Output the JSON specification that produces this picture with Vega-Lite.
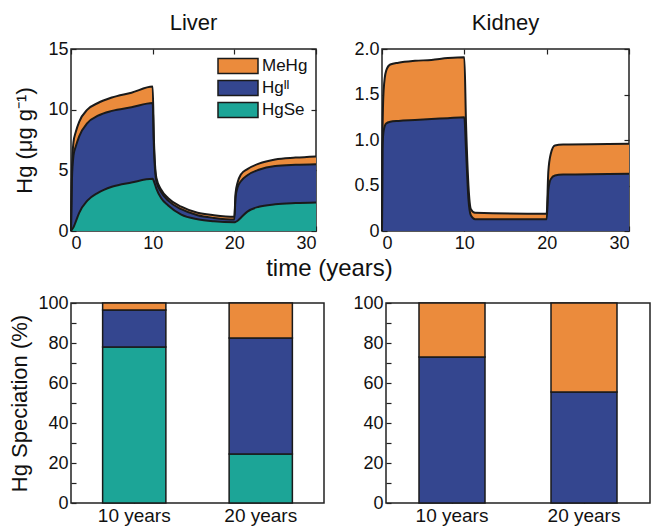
{
  "$schema": "https://vega.github.io/schema/vega-lite/v6.json",
  "padding": {"left": 8, "top": 11, "right": 4, "bottom": 0},
  "config": {
    "font": "Liberation Sans",
    "view": {"stroke": "#222", "strokeWidth": 1.5},
    "axis": {
      "domain": false, "grid": false, "tickColor": "#222", "tickSize": -5, "tickWidth": 1.2,
      "labelFontSize": 18, "labelColor": "#111", "labelPadding": 8,
      "titleFontSize": 22, "titleFontWeight": "normal", "titleColor": "#111"
    },
    "title": {"fontSize": 22, "fontWeight": "normal", "color": "#111"}
  },
  "datasets": {
    "liver": [
      {"t": 0, "s": "HgSe", "v": 0}, {"t": 0, "s": "Hgᴵᴵ", "v": 0}, {"t": 0, "s": "MeHg", "v": 0},
      {"t": 0.1, "s": "HgSe", "v": 0.1}, {"t": 0.1, "s": "Hgᴵᴵ", "v": 3.9}, {"t": 0.1, "s": "MeHg", "v": 0.8},
      {"t": 0.3, "s": "HgSe", "v": 0.3}, {"t": 0.3, "s": "Hgᴵᴵ", "v": 5.9}, {"t": 0.3, "s": "MeHg", "v": 1.1},
      {"t": 0.6, "s": "HgSe", "v": 0.8}, {"t": 0.6, "s": "Hgᴵᴵ", "v": 6.2}, {"t": 0.6, "s": "MeHg", "v": 1.2},
      {"t": 1, "s": "HgSe", "v": 1.5}, {"t": 1, "s": "Hgᴵᴵ", "v": 6.3}, {"t": 1, "s": "MeHg", "v": 1.2},
      {"t": 2, "s": "HgSe", "v": 2.5}, {"t": 2, "s": "Hgᴵᴵ", "v": 6.4}, {"t": 2, "s": "MeHg", "v": 1.1},
      {"t": 3.3, "s": "HgSe", "v": 3.15}, {"t": 3.3, "s": "Hgᴵᴵ", "v": 6.35}, {"t": 3.3, "s": "MeHg", "v": 1.05},
      {"t": 5, "s": "HgSe", "v": 3.65}, {"t": 5, "s": "Hgᴵᴵ", "v": 6.25}, {"t": 5, "s": "MeHg", "v": 1.1},
      {"t": 7.4, "s": "HgSe", "v": 4.0}, {"t": 7.4, "s": "Hgᴵᴵ", "v": 6.2}, {"t": 7.4, "s": "MeHg", "v": 1.2},
      {"t": 10, "s": "HgSe", "v": 4.3}, {"t": 10, "s": "Hgᴵᴵ", "v": 6.25}, {"t": 10, "s": "MeHg", "v": 1.35},
      {"t": 10.15, "s": "HgSe", "v": 4.1}, {"t": 10.15, "s": "Hgᴵᴵ", "v": 2.9}, {"t": 10.15, "s": "MeHg", "v": 0.6},
      {"t": 10.45, "s": "HgSe", "v": 3.5}, {"t": 10.45, "s": "Hgᴵᴵ", "v": 0.6}, {"t": 10.45, "s": "MeHg", "v": 0.3},
      {"t": 11.05, "s": "HgSe", "v": 2.7}, {"t": 11.05, "s": "Hgᴵᴵ", "v": 0.5}, {"t": 11.05, "s": "MeHg", "v": 0.2},
      {"t": 11.9, "s": "HgSe", "v": 2.1}, {"t": 11.9, "s": "Hgᴵᴵ", "v": 0.4}, {"t": 11.9, "s": "MeHg", "v": 0.2},
      {"t": 13.5, "s": "HgSe", "v": 1.35}, {"t": 13.5, "s": "Hgᴵᴵ", "v": 0.45}, {"t": 13.5, "s": "MeHg", "v": 0.2},
      {"t": 15.5, "s": "HgSe", "v": 0.97}, {"t": 15.5, "s": "Hgᴵᴵ", "v": 0.33}, {"t": 15.5, "s": "MeHg", "v": 0.2},
      {"t": 17.5, "s": "HgSe", "v": 0.8}, {"t": 17.5, "s": "Hgᴵᴵ", "v": 0.28}, {"t": 17.5, "s": "MeHg", "v": 0.22},
      {"t": 20, "s": "HgSe", "v": 0.72}, {"t": 20, "s": "Hgᴵᴵ", "v": 0.23}, {"t": 20, "s": "MeHg", "v": 0.22},
      {"t": 20.15, "s": "HgSe", "v": 0.75}, {"t": 20.15, "s": "Hgᴵᴵ", "v": 2.05}, {"t": 20.15, "s": "MeHg", "v": 0.3},
      {"t": 20.4, "s": "HgSe", "v": 0.85}, {"t": 20.4, "s": "Hgᴵᴵ", "v": 2.75}, {"t": 20.4, "s": "MeHg", "v": 0.4},
      {"t": 20.8, "s": "HgSe", "v": 1.1}, {"t": 20.8, "s": "Hgᴵᴵ", "v": 3.0}, {"t": 20.8, "s": "MeHg", "v": 0.55},
      {"t": 21.6, "s": "HgSe", "v": 1.6}, {"t": 21.6, "s": "Hgᴵᴵ", "v": 3.0}, {"t": 21.6, "s": "MeHg", "v": 0.5},
      {"t": 23, "s": "HgSe", "v": 2.0}, {"t": 23, "s": "Hgᴵᴵ", "v": 3.05}, {"t": 23, "s": "MeHg", "v": 0.5},
      {"t": 25, "s": "HgSe", "v": 2.2}, {"t": 25, "s": "Hgᴵᴵ", "v": 3.15}, {"t": 25, "s": "MeHg", "v": 0.55},
      {"t": 27.5, "s": "HgSe", "v": 2.3}, {"t": 27.5, "s": "Hgᴵᴵ", "v": 3.15}, {"t": 27.5, "s": "MeHg", "v": 0.6},
      {"t": 30, "s": "HgSe", "v": 2.35}, {"t": 30, "s": "Hgᴵᴵ", "v": 3.15}, {"t": 30, "s": "MeHg", "v": 0.65}
    ],
    "kidney": [
      {"t": 0, "s": "Hgᴵᴵ", "v": 0}, {"t": 0, "s": "MeHg", "v": 0},
      {"t": 0.05, "s": "Hgᴵᴵ", "v": 0.9}, {"t": 0.05, "s": "MeHg", "v": 0.1},
      {"t": 0.2, "s": "Hgᴵᴵ", "v": 1.1}, {"t": 0.2, "s": "MeHg", "v": 0.45},
      {"t": 0.5, "s": "Hgᴵᴵ", "v": 1.18}, {"t": 0.5, "s": "MeHg", "v": 0.58},
      {"t": 1, "s": "Hgᴵᴵ", "v": 1.2}, {"t": 1, "s": "MeHg", "v": 0.63},
      {"t": 2, "s": "Hgᴵᴵ", "v": 1.21}, {"t": 2, "s": "MeHg", "v": 0.64},
      {"t": 4, "s": "Hgᴵᴵ", "v": 1.22}, {"t": 4, "s": "MeHg", "v": 0.65},
      {"t": 6, "s": "Hgᴵᴵ", "v": 1.23}, {"t": 6, "s": "MeHg", "v": 0.65},
      {"t": 8, "s": "Hgᴵᴵ", "v": 1.24}, {"t": 8, "s": "MeHg", "v": 0.66},
      {"t": 10, "s": "Hgᴵᴵ", "v": 1.25}, {"t": 10, "s": "MeHg", "v": 0.66},
      {"t": 10.2, "s": "Hgᴵᴵ", "v": 0.9}, {"t": 10.2, "s": "MeHg", "v": 0.3},
      {"t": 10.5, "s": "Hgᴵᴵ", "v": 0.35}, {"t": 10.5, "s": "MeHg", "v": 0.15},
      {"t": 10.8, "s": "Hgᴵᴵ", "v": 0.17}, {"t": 10.8, "s": "MeHg", "v": 0.07},
      {"t": 11.3, "s": "Hgᴵᴵ", "v": 0.13}, {"t": 11.3, "s": "MeHg", "v": 0.07},
      {"t": 20, "s": "Hgᴵᴵ", "v": 0.13}, {"t": 20, "s": "MeHg", "v": 0.06},
      {"t": 20.2, "s": "Hgᴵᴵ", "v": 0.45}, {"t": 20.2, "s": "MeHg", "v": 0.2},
      {"t": 20.5, "s": "Hgᴵᴵ", "v": 0.57}, {"t": 20.5, "s": "MeHg", "v": 0.28},
      {"t": 21, "s": "Hgᴵᴵ", "v": 0.61}, {"t": 21, "s": "MeHg", "v": 0.33},
      {"t": 22, "s": "Hgᴵᴵ", "v": 0.62}, {"t": 22, "s": "MeHg", "v": 0.33},
      {"t": 30, "s": "Hgᴵᴵ", "v": 0.63}, {"t": 30, "s": "MeHg", "v": 0.33}
    ],
    "liverBar": [
      {"yr": "10 years", "s": "HgSe", "v": 78}, {"yr": "10 years", "s": "Hgᴵᴵ", "v": 18.5}, {"yr": "10 years", "s": "MeHg", "v": 3.5},
      {"yr": "20 years", "s": "HgSe", "v": 24.5}, {"yr": "20 years", "s": "Hgᴵᴵ", "v": 58}, {"yr": "20 years", "s": "MeHg", "v": 17.5}
    ],
    "kidneyBar": [
      {"yr": "10 years", "s": "Hgᴵᴵ", "v": 73}, {"yr": "10 years", "s": "MeHg", "v": 27},
      {"yr": "20 years", "s": "Hgᴵᴵ", "v": 55.5}, {"yr": "20 years", "s": "MeHg", "v": 44.5}
    ]
  },
  "resolve": {"legend": {"color": "independent"}},
  "spacing": 4,
  "vconcat": [
    {
      "resolve": {"legend": {"color": "independent"}},
      "spacing": 32,
      "hconcat": [
        {
          "width": 245, "height": 182,
          "title": {"text": "Liver", "offset": 5},
          "data": {"name": "liver"},
          "encoding": {
            "x": {"field": "t", "type": "quantitative", "scale": {"domain": [0, 30], "nice": false}, "axis": {"values": [0, 10, 20, 30], "title": null}},
            "y": {"field": "v", "type": "quantitative", "stack": "zero", "scale": {"domain": [0, 15], "nice": false}, "axis": {"values": [0, 5, 10, 15], "title": "Hg (μg g⁻¹)", "titlePadding": 11}},
            "order": {"field": "s", "sort": "ascending"}
          },
          "layer": [
            {
              "mark": {"type": "area", "interpolate": "monotone", "opacity": 1},
              "encoding": {
                "color": {
                  "field": "s", "type": "nominal",
                  "scale": {"domain": ["MeHg", "Hgᴵᴵ", "HgSe"], "range": ["#EB8B3C", "#34468F", "#1CA597"]},
                  "legend": {
                    "orient": "top-right", "title": null, "offset": 8, "padding": 0,
                    "symbolType": "M-2.5,-0.95H2.5V0.95H-2.5Z", "symbolSize": 256,
                    "symbolStrokeColor": "#1a1a1a", "symbolStrokeWidth": 1.5, "symbolOpacity": 1,
                    "labelFontSize": 17, "labelColor": "#111", "labelOffset": 15, "rowPadding": 0
                  }
                }
              }
            },
            {
              "mark": {"type": "line", "interpolate": "monotone", "color": "#1a1a1a", "strokeWidth": 2},
              "encoding": {
                "detail": {"field": "s"},
                "x": {"field": "t", "type": "quantitative", "axis": {"orient": "top", "values": [0, 10, 20, 30], "labels": false, "title": null}},
                "y": {"field": "v", "type": "quantitative", "stack": "zero", "axis": {"orient": "right", "values": [0, 5, 10, 15], "labels": false, "title": null}}
              }
            }
          ],
          "resolve": {"axis": {"x": "independent", "y": "independent"}}
        },
        {
          "width": 247, "height": 182,
          "title": {"text": "Kidney", "offset": 5},
          "data": {"name": "kidney"},
          "encoding": {
            "x": {"field": "t", "type": "quantitative", "scale": {"domain": [0, 30], "nice": false}, "axis": {"values": [0, 10, 20, 30], "title": null}},
            "y": {"field": "v", "type": "quantitative", "stack": "zero", "scale": {"domain": [0, 2], "nice": false}, "axis": {"values": [0, 0.5, 1, 1.5, 2], "labelExpr": "datum.value == 0 ? '0' : format(datum.value, '.1f')", "title": null}},
            "order": {"field": "s", "sort": "ascending"}
          },
          "layer": [
            {
              "mark": {"type": "area", "interpolate": "monotone", "opacity": 1},
              "encoding": {
                "color": {
                  "field": "s", "type": "nominal",
                  "scale": {"domain": ["MeHg", "Hgᴵᴵ", "HgSe"], "range": ["#EB8B3C", "#34468F", "#1CA597"]},
                  "legend": null
                }
              }
            },
            {
              "mark": {"type": "line", "interpolate": "monotone", "color": "#1a1a1a", "strokeWidth": 2},
              "encoding": {
                "detail": {"field": "s"},
                "x": {"field": "t", "type": "quantitative", "axis": {"orient": "top", "values": [0, 10, 20, 30], "labels": false, "title": null}},
                "y": {"field": "v", "type": "quantitative", "stack": "zero", "axis": {"orient": "right", "values": [0, 0.5, 1, 1.5, 2], "labels": false, "title": null}}
              }
            }
          ],
          "resolve": {"axis": {"x": "independent", "y": "independent"}}
        }
      ]
    },
    {
      "title": {"text": "time (years)", "anchor": "middle", "fontSize": 24, "offset": 12},
      "resolve": {"legend": {"color": "independent"}},
      "spacing": 27,
      "hconcat": [
        {
          "width": 253, "height": 200,
          "data": {"name": "liverBar"},
          "mark": {"type": "bar", "stroke": "#1a1a1a", "strokeWidth": 1.5},
          "encoding": {
            "x": {"field": "yr", "type": "nominal", "scale": {"paddingInner": 0.5, "paddingOuter": 0.25}, "axis": {"title": null, "labelAngle": 0, "labelFontSize": 19}},
            "y": {"field": "v", "type": "quantitative", "stack": "zero", "scale": {"domain": [0, 100], "nice": false}, "axis": {"values": [0, 10, 20, 30, 40, 50, 60, 70, 80, 90, 100], "labelExpr": "datum.value % 20 == 0 ? datum.label : ''", "title": "Hg Speciation (%)", "titlePadding": 6}},
            "color": {
              "field": "s", "type": "nominal",
              "scale": {"domain": ["MeHg", "Hgᴵᴵ", "HgSe"], "range": ["#EB8B3C", "#34468F", "#1CA597"]},
              "legend": null
            },
            "order": {"field": "s", "sort": "ascending"}
          }
        },
        {
          "width": 264, "height": 200,
          "data": {"name": "kidneyBar"},
          "mark": {"type": "bar", "stroke": "#1a1a1a", "strokeWidth": 1.5},
          "encoding": {
            "x": {"field": "yr", "type": "nominal", "scale": {"paddingInner": 0.5, "paddingOuter": 0.25}, "axis": {"title": null, "labelAngle": 0, "labelFontSize": 19}},
            "y": {"field": "v", "type": "quantitative", "stack": "zero", "scale": {"domain": [0, 100], "nice": false}, "axis": {"values": [0, 10, 20, 30, 40, 50, 60, 70, 80, 90, 100], "labelExpr": "datum.value % 20 == 0 ? datum.label : ''", "title": null}},
            "color": {
              "field": "s", "type": "nominal",
              "scale": {"domain": ["MeHg", "Hgᴵᴵ", "HgSe"], "range": ["#EB8B3C", "#34468F", "#1CA597"]},
              "legend": null
            },
            "order": {"field": "s", "sort": "ascending"}
          }
        }
      ]
    }
  ]
}
